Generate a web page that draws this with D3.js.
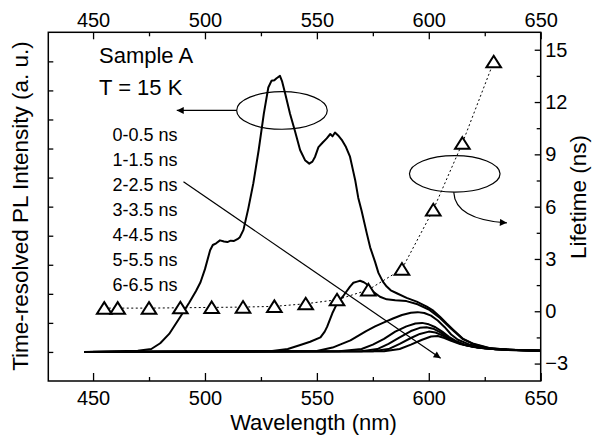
<!DOCTYPE html>
<html><head><meta charset="utf-8">
<script src="https://cdn.jsdelivr.net/npm/d3@7"></script>
<style>
html,body{margin:0;padding:0;background:#fff;}
svg text{font-family:"Liberation Sans",Arial,Helvetica,sans-serif;fill:#000;}
</style></head>
<body>
<svg id="chart" width="592" height="440"></svg>
<script>
// ---- data ----
const seriesLabels = ["0-0.5 ns","1-1.5 ns","2-2.5 ns","3-3.5 ns","4-4.5 ns","5-5.5 ns","6-6.5 ns"];
const xTicks = [450,500,550,600,650];
const xMinorTicks = [475,525,575,625];
const lifeTicks = [-3,0,3,6,9,12,15];
const lifeMinorTicks = [-1.5,1.5,4.5,7.5,10.5,13.5];
const intensityTicks = [0,1,2,3,4,5,6,7,8,9,10];

// [wavelength nm, intensity a.u.]
const pl0 = [[446,0],[470,0.04],[476,0.1],[480,0.3],[484,0.62],[489,1.21],[493,1.7],[496,2.1],[498,2.4],[500,2.85],[502.3,3.5],[503.5,3.68],[505,3.74],[506.7,3.84],[508.5,3.8],[510,3.78],[511.5,3.83],[513,3.82],[514.5,3.88],[515.6,3.95],[517.2,4.2],[519.4,4.95],[521.6,5.8],[524,6.95],[526.3,8.2],[528.3,9.1],[529.7,9.33],[531,9.35],[532,9.42],[533.5,9.5],[534.5,9.3],[535.8,8.9],[538,8.2],[540.2,7.6],[542.5,6.95],[544.7,6.6],[546.6,6.48],[548,6.55],[549.2,6.72],[550.7,7.05],[552.5,7.2],[554.4,7.35],[556,7.5],[557,7.42],[558.1,7.55],[559.5,7.45],[561.1,7.3],[563,7.05],[564.8,6.72],[566,6.3],[567.1,5.92],[568.5,5.3],[570,4.85],[572.3,4.08],[573.8,3.6],[576,3.1],[577.5,2.72],[579.5,2.42],[581.2,2.25],[583,2.12],[585.7,2.02],[590.1,1.86],[594.6,1.73],[599.1,1.56],[602,1.42],[605,1.21],[608,0.98],[611,0.76],[615.4,0.45],[620,0.28],[627.4,0.13],[635,0.08],[650,0.05]];
const pl1 = [[446,0],[530,0.03],[537,0.1],[542.6,0.24],[547,0.35],[551.6,0.5],[553.5,0.7],[554.6,0.87],[556.9,1.33],[559.1,1.68],[562,1.95],[564.8,2.25],[566.3,2.38],[568,2.42],[569.3,2.45],[571,2.4],[572.3,2.33],[574,2.15],[575.2,2.07],[578.2,1.9],[581.2,1.81],[585,1.78],[590,1.75],[595,1.64],[600,1.46],[605,1.17],[610,0.8],[615,0.45],[620,0.27],[627,0.13],[635,0.07],[650,0.04]];
const pl2 = [[446,0],[550,0.03],[557,0.15],[565,0.4],[572,0.72],[576,0.88],[580,1.02],[584,1.15],[588,1.27],[592,1.35],[595,1.37],[598,1.34],[601,1.25],[604,1.08],[607,0.86],[610,0.6],[613,0.42],[618,0.26],[625,0.14],[635,0.08],[650,0.04]];
const pl3 = [[446,0],[560,0.02],[570,0.1],[575,0.25],[580,0.45],[585,0.7],[590,0.88],[594,0.98],[597,1.0],[600,0.95],[603,0.85],[606,0.7],[609,0.52],[612,0.38],[616,0.25],[622,0.15],[630,0.09],[650,0.04]];
const pl4 = [[446,0],[570,0.02],[577,0.1],[582,0.28],[587,0.5],[592,0.72],[596,0.83],[599,0.85],[602,0.8],[605,0.68],[608,0.53],[611,0.4],[615,0.27],[620,0.17],[630,0.09],[650,0.04]];
const pl5 = [[446,0],[575,0.02],[582,0.1],[587,0.28],[592,0.48],[596,0.62],[600,0.7],[603,0.67],[606,0.57],[609,0.45],[612,0.35],[616,0.24],[622,0.15],[630,0.09],[650,0.04]];
const pl6 = [[446,0],[580,0.02],[587,0.1],[592,0.25],[597,0.42],[601,0.53],[604,0.55],[607,0.48],[610,0.38],[614,0.27],[618,0.2],[625,0.12],[635,0.07],[650,0.04]];
const plSeries = [pl0,pl1,pl2,pl3,pl4,pl5,pl6];

const lifeWavelength = [455,461,475,489,503,517,531,545,559,573,588,602,615,629];
const lifetime = [0.18,0.18,0.18,0.2,0.22,0.24,0.28,0.43,0.66,1.23,2.42,5.82,9.64,14.31];

// ---- layout ----
const L=48.3, R=540.7, T=32.3, B=381;
const svg = d3.select("#chart");
const x = d3.scaleLinear().domain([430,650]).range([L,R]);
const yI = d3.scaleLinear().domain([-1,11]).range([B,T]);
const yT = d3.scaleLinear().domain([-4,16]).range([B,T]);

const defs = svg.append("defs");
defs.append("marker").attr("id","ah").attr("viewBox","0 0 10 10").attr("refX",10).attr("refY",5)
  .attr("markerWidth",10).attr("markerHeight",7).attr("markerUnits","userSpaceOnUse").attr("orient","auto")
  .append("path").attr("d","M0,0 L10,5 L0,10 z").attr("fill","#000");

// curves
const line = d3.line().x(d=>x(d[0])).y(d=>yI(d[1]));
svg.append("g").selectAll("path").data(plSeries).join("path")
  .attr("d",line).attr("fill","none").attr("stroke","#000").attr("stroke-width",2).attr("stroke-linejoin","round");

// lifetime dotted line + triangles
const lifePts = lifeWavelength.map((w,i)=>[w,lifetime[i]]);
svg.append("path").datum(lifePts)
  .attr("d",d3.line().x(d=>x(d[0])).y(d=>yT(d[1])))
  .attr("fill","none").attr("stroke","#000").attr("stroke-width",1).attr("stroke-dasharray","2,2.5");
svg.append("g").selectAll("path").data(lifePts).join("path")
  .attr("transform",d=>`translate(${x(d[0])},${yT(d[1])})`)
  .attr("d","M0,-6 L7.3,5.6 L-7.3,5.6 Z")
  .attr("fill","#fff").attr("stroke","#000").attr("stroke-width",2);

// frame
svg.append("rect").attr("x",L).attr("y",T).attr("width",R-L).attr("height",B-T)
  .attr("fill","none").attr("stroke","#000").attr("stroke-width",1.5);

function styleAxis(g){ g.select(".domain").remove(); g.selectAll("line").attr("stroke","#000").attr("stroke-width",1.3);
  g.selectAll("text").attr("font-size",20).attr("font-family","Liberation Sans, Arial, sans-serif"); }

svg.append("g").attr("transform",`translate(0,${B})`)
  .call(d3.axisBottom(x).tickValues(xTicks).tickSize(-8).tickPadding(9.5).tickFormat(d3.format("d"))).call(styleAxis);
svg.append("g").attr("transform",`translate(0,${B})`)
  .call(d3.axisBottom(x).tickValues(xMinorTicks).tickSize(-4).tickFormat("")).call(styleAxis);
svg.append("g").attr("transform",`translate(0,${T})`)
  .call(d3.axisTop(x).tickValues(xTicks).tickSize(-7).tickPadding(5).tickFormat(d3.format("d"))).call(styleAxis);
svg.append("g").attr("transform",`translate(0,${T})`)
  .call(d3.axisTop(x).tickValues(xMinorTicks).tickSize(-4).tickFormat("")).call(styleAxis);
svg.append("g").attr("transform",`translate(${L},0)`)
  .call(d3.axisLeft(yI).tickValues(intensityTicks).tickSize(-5).tickFormat("")).call(styleAxis);
svg.append("g").attr("transform",`translate(${R},0)`)
  .call(d3.axisRight(yT).tickValues(lifeTicks).tickSize(-6).tickPadding(4.5).tickFormat(d3.format("d"))).call(styleAxis);
svg.append("g").attr("transform",`translate(${R},0)`)
  .call(d3.axisRight(yT).tickValues(lifeMinorTicks).tickSize(-4).tickFormat("")).call(styleAxis);

// titles
svg.append("text").attr("x",313.5).attr("y",429.5).attr("text-anchor","middle").attr("font-size",22).text("Wavelength (nm)");
svg.append("text").attr("transform","translate(28,206) rotate(-90)").attr("text-anchor","middle").attr("font-size",22.5)
  .text("Time-resolved PL Intensity (a. u.)");
svg.append("text").attr("transform","translate(586,197) rotate(-90)").attr("text-anchor","middle").attr("font-size",22.5)
  .text("Lifetime (ns)");

// annotations
svg.append("text").attr("x",99).attr("y",63).attr("font-size",22).text("Sample A");
svg.append("text").attr("x",99).attr("y",95).attr("font-size",22).text("T = 15 K");
svg.append("g").selectAll("text").data(seriesLabels).join("text")
  .attr("x",112.5).attr("y",(d,i)=>141+25*i).attr("font-size",18).text(d=>d);

// ellipse 1 + arrow to left axis
const e1 = {w:534.4, v:8.31};
svg.append("ellipse").attr("cx",x(e1.w)).attr("cy",yI(e1.v)).attr("rx",45.3).attr("ry",18.8)
  .attr("fill","none").attr("stroke","#000").attr("stroke-width",1.2);
svg.append("line").attr("x1",x(e1.w)-45.3).attr("y1",yI(e1.v)).attr("x2",x(487.4)).attr("y2",yI(e1.v))
  .attr("stroke","#000").attr("stroke-width",1.2).attr("marker-end","url(#ah)");

// ellipse 2 + curved arrow to right axis
const e2 = {w:611.6, v:7.88};
const cx2 = x(e2.w), cy2 = yT(e2.v);
svg.append("ellipse").attr("cx",cx2).attr("cy",cy2).attr("rx",45.3).attr("ry",18.3)
  .attr("fill","none").attr("stroke","#000").attr("stroke-width",1.2);
svg.append("path")
  .attr("d",`M${cx2-1},${cy2+18.3} C${cx2},${cy2+38} ${cx2+22},${cy2+47} ${x(634.9)},${cy2+49}`)
  .attr("fill","none").attr("stroke","#000").attr("stroke-width",1.2).attr("marker-end","url(#ah)");

// diagonal time arrow
svg.append("line").attr("x1",x(490.4)).attr("y1",yI(5.86)).attr("x2",x(605.3)).attr("y2",yI(-0.22))
  .attr("stroke","#000").attr("stroke-width",1.2).attr("marker-end","url(#ah)");
</script>
</body></html>
